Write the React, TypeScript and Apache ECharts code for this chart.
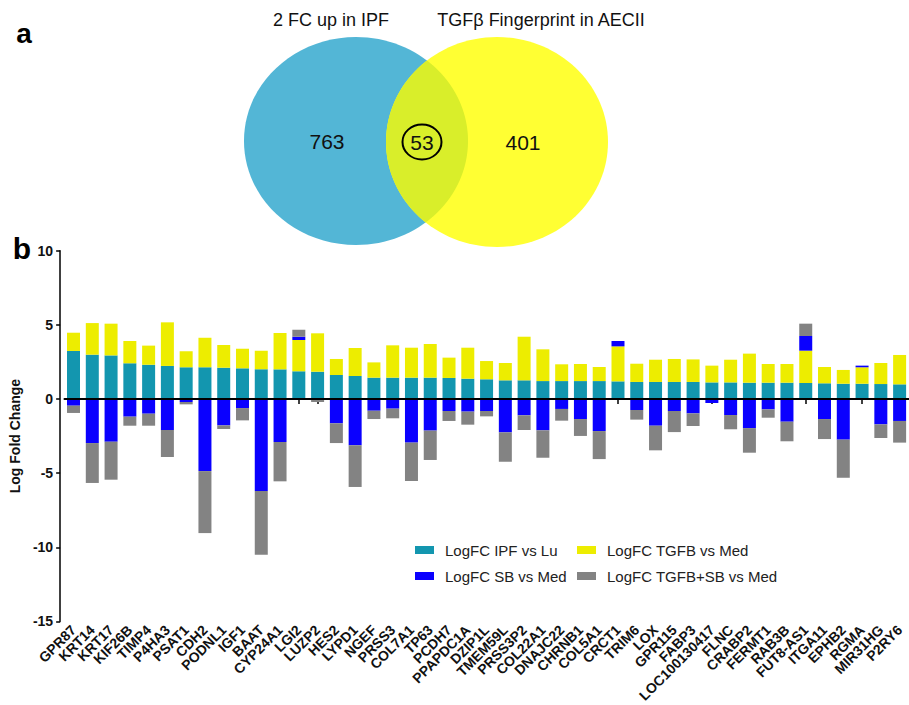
import React, { useEffect, useRef } from 'react';
import * as echarts from 'echarts';

const GENES = [
  'GPR87', 'KRT14', 'KRT17', 'KIF26B', 'TIMP4', 'P4HA3', 'PSAT1', 'CDH2', 'PODNL1', 'IGF1',
  'BAAT', 'CYP24A1', 'LGI2', 'LUZP2', 'HES2', 'LYPD1', 'NGEF', 'PRSS3', 'COL7A1', 'TP63',
  'PCDH7', 'PPAPDC1A', 'DZIP1L', 'TMEM59L', 'PRSS3P2', 'COL22A1', 'DNAJC22', 'CHRNB1', 'COL5A1', 'CRCT1',
  'TRIM6', 'LOX', 'GPR115', 'FABP3', 'LOC100130417', 'FLNC', 'CRABP2', 'FERMT1', 'RAB3B', 'FUT8-AS1',
  'ITGA11', 'EPHB2', 'RGMA', 'MIR31HG', 'P2RY6',
];

const IPF_VS_LU = [
  3.24, 2.99, 2.94, 2.41, 2.31, 2.23, 2.14, 2.14, 2.11, 2.07,
  2.0, 2.0, 1.87, 1.84, 1.62, 1.55, 1.44, 1.44, 1.44, 1.44,
  1.42, 1.37, 1.33, 1.26, 1.26, 1.21, 1.21, 1.21, 1.21, 1.19,
  1.15, 1.15, 1.15, 1.15, 1.12, 1.12, 1.1, 1.1, 1.1, 1.08,
  1.06, 1.03, 1.03, 1.01, 0.99,
];

const TGFB_VS_MED = [
  1.23, 2.13, 2.14, 1.5, 1.29, 2.94, 1.08, 1.99, 1.53, 1.32,
  1.26, 2.45, 2.11, 2.59, 1.08, 1.89, 1.03, 2.18, 2.02, 2.27,
  1.37, 2.09, 1.23, 1.17, 2.94, 2.14, 1.13, 1.15, 0.95, 2.36,
  1.23, 1.5, 1.55, 1.52, 1.13, 1.53, 1.96, 1.26, 1.26, 2.18,
  1.1, 0.93, 1.11, 1.42, 1.98,
];

const SB_VS_MED = [
  -0.45, -2.97, -2.88, -1.19, -0.99, -2.09, -0.2, -4.86, -1.78, -0.61,
  -6.2, -2.9, 0.22, 0, -1.64, -3.12, -0.79, -0.65, -2.94, -2.13,
  -0.81, -0.85, -0.81, -2.25, -1.1, -2.11, -0.67, -1.35, -2.16, 0.36,
  -0.74, -1.8, -0.81, -0.97, -0.27, -1.08, -1.96, -0.7, -1.53, 0.99,
  -1.35, -2.74, 0.11, -1.71, -1.48,
];

const TGFB_SB_VS_MED = [
  -0.49, -2.69, -2.56, -0.61, -0.81, -1.82, -0.16, -4.18, -0.24, -0.83,
  -4.3, -2.65, 0.47, -0.2, -1.33, -2.81, -0.56, -0.65, -2.59, -1.98,
  -0.67, -0.88, -0.36, -1.98, -0.99, -1.85, -0.79, -1.14, -1.89, 0,
  -0.65, -1.66, -1.42, -0.85, 0, -0.96, -1.66, -0.56, -1.32, 0.83,
  -1.35, -2.57, 0, -0.92, -1.46,
];

const SERIES_NAMES = ['LogFC IPF vs Lu', 'LogFC TGFB vs Med', 'LogFC SB vs Med', 'LogFC TGFB+SB vs Med'];
const SERIES_COLORS = ['#1396AF', '#EDED00', '#0A00FF', '#838383'];

const Y_MIN = -15;
const Y_MAX = 10;
const Y_STEP = 5;

const VENN_SETS = ['2 FC up in IPF', 'TGFβ Fingerprint in AECII'];
const VENN_COUNTS = [763, 53, 401];

const FONT = '"Liberation Sans", Arial, Helvetica, sans-serif';

type Ell = { cx: number; cy: number; rx: number; ry: number };
const ELL_A: Ell = { cx: 356, cy: 141, rx: 112, ry: 104 };
const ELL_B: Ell = { cx: 497, cy: 142, rx: 111, ry: 105 };

function inside(e: Ell, x: number, y: number) {
  const dx = (x - e.cx) / e.rx;
  const dy = (y - e.cy) / e.ry;
  return dx * dx + dy * dy <= 1.0001;
}

function lensPoints(): number[][] {
  const pts: number[][] = [];
  const N = 1440;
  for (let i = 0; i < N; i++) {
    const t = (2 * Math.PI * i) / N;
    const ax = ELL_A.cx + ELL_A.rx * Math.cos(t);
    const ay = ELL_A.cy + ELL_A.ry * Math.sin(t);
    if (inside(ELL_B, ax, ay)) pts.push([ax, ay]);
    const bx = ELL_B.cx + ELL_B.rx * Math.cos(t);
    const by = ELL_B.cy + ELL_B.ry * Math.sin(t);
    if (inside(ELL_A, bx, by)) pts.push([bx, by]);
  }
  let mx = 0;
  let my = 0;
  pts.forEach((p) => {
    mx += p[0];
    my += p[1];
  });
  mx /= pts.length;
  my /= pts.length;
  pts.sort((p, q) => Math.atan2(p[1] - my, p[0] - mx) - Math.atan2(q[1] - my, q[0] - mx));
  return pts;
}

function buildOption(): any {
  const seriesData = [IPF_VS_LU, TGFB_VS_MED, SB_VS_MED, TGFB_SB_VS_MED];
  const series = seriesData.map((d, i) => ({
    name: SERIES_NAMES[i],
    type: 'bar',
    stack: 'lfc',
    stackStrategy: 'samesign',
    barWidth: 13,
    data: d,
    itemStyle: { color: SERIES_COLORS[i] },
    ...(i === 3
      ? {
          markLine: {
            silent: true,
            symbol: ['none', 'none'],
            label: { show: false },
            lineStyle: { color: '#000', width: 2, type: 'solid' },
            data: [{ yAxis: 0 }],
            z: 10,
          },
        }
      : {}),
  }));

  const legendCommon = {
    orient: 'vertical',
    itemWidth: 19,
    itemHeight: 8,
    itemGap: 10,
    icon: 'rect',
    selectedMode: false,
    padding: 0,
    textStyle: { fontFamily: FONT, fontSize: 15, color: '#222', lineHeight: 16, padding: [0, 0, 0, 6] },
  };

  const textStyle = (size: number, weight = 'normal') => ({
    fill: '#111',
    fontSize: size,
    fontFamily: FONT,
    fontWeight: weight,
    align: 'center',
    verticalAlign: 'middle',
  });

  const graphic: any[] = [
    { type: 'ellipse', shape: { ...ELL_A }, style: { fill: '#53B6D6' }, z: 1 },
    { type: 'ellipse', shape: { ...ELL_B }, style: { fill: '#FFFF33' }, z: 1 },
    { type: 'polygon', shape: { points: lensPoints() }, style: { fill: '#D9EE2A' }, z: 2 },
    { type: 'ellipse', shape: { cx: 422, cy: 142, rx: 19.5, ry: 17.5 }, style: { fill: 'none', stroke: '#000', lineWidth: 2 }, z: 3 },
    { type: 'text', z: 3, style: { ...textStyle(18), text: VENN_SETS[0], x: 331, y: 20 } },
    { type: 'text', z: 3, style: { ...textStyle(18), text: VENN_SETS[1], x: 541, y: 20 } },
    { type: 'text', z: 3, style: { ...textStyle(21), text: String(VENN_COUNTS[0]), x: 327, y: 141 } },
    { type: 'text', z: 3, style: { ...textStyle(21), text: String(VENN_COUNTS[1]), x: 422, y: 142 } },
    { type: 'text', z: 3, style: { ...textStyle(21), text: String(VENN_COUNTS[2]), x: 523, y: 142 } },
    { type: 'text', z: 3, style: { ...textStyle(28, 'bold'), fill: '#000', text: 'a', x: 24, y: 33 } },
    { type: 'text', z: 3, style: { ...textStyle(30, 'bold'), fill: '#000', text: 'b', x: 22, y: 248 } },
  ];

  return {
    animation: false,
    backgroundColor: '#fff',
    textStyle: { fontFamily: FONT },
    grid: { left: 61, top: 250.7, width: 851, height: 370.8, containLabel: false },
    legend: [
      { ...legendCommon, data: [SERIES_NAMES[0], SERIES_NAMES[2]], left: 415, top: 542 },
      { ...legendCommon, data: [SERIES_NAMES[1], SERIES_NAMES[3]], left: 577, top: 542 },
    ],
    xAxis: {
      type: 'category',
      data: GENES,
      axisLine: { lineStyle: { color: '#000', width: 1.5 } },
      axisTick: { show: true, alignWithLabel: true, length: 5, lineStyle: { color: '#000', width: 1.5 } },
      axisLabel: {
        interval: 0,
        rotate: 45,
        margin: 6,
        fontSize: 14,
        fontWeight: 'bold',
        color: '#111',
        fontFamily: FONT,
      },
    },
    yAxis: {
      type: 'value',
      min: Y_MIN,
      max: Y_MAX,
      interval: Y_STEP,
      offset: 4,
      name: 'Log Fold Change',
      nameLocation: 'middle',
      nameGap: 32,
      nameTextStyle: { fontSize: 14, fontWeight: 'bold', color: '#111', fontFamily: FONT },
      axisLine: { show: true, lineStyle: { color: '#000', width: 1.5 } },
      axisTick: { show: true, length: 4, lineStyle: { color: '#000', width: 1.5 } },
      axisLabel: { fontSize: 14, fontWeight: 'bold', color: '#111', margin: 7, fontFamily: FONT },
      splitLine: { show: false },
    },
    series,
    graphic,
  };
}

export default function App() {
  const ref = useRef<HTMLDivElement>(null);
  useEffect(() => {
    document.body.style.margin = '0';
    const chart = echarts.init(ref.current as HTMLDivElement, null, { renderer: 'svg' });
    chart.setOption(buildOption());
    return () => chart.dispose();
  }, []);
  return <div ref={ref} style={{ width: 909, height: 705 }} />;
}
